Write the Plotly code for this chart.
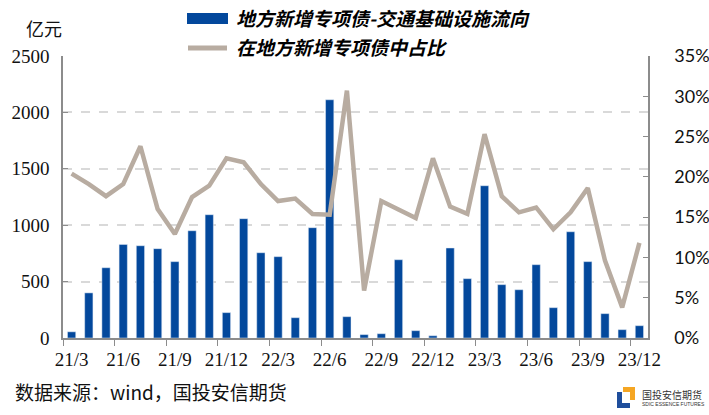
import plotly.graph_objects as go

months = ["21/3","21/4","21/5","21/6","21/7","21/8","21/9","21/10","21/11","21/12",
          "22/1","22/2","22/3","22/4","22/5","22/6","22/7","22/8","22/9","22/10","22/11","22/12",
          "23/1","23/2","23/3","23/4","23/5","23/6","23/7","23/8","23/9","23/10","23/11","23/12"]
bar_values = [55, 400, 623, 830, 818, 792, 677, 951, 1093, 225,
              1058, 756, 721, 180, 978, 2112, 189, 30, 38, 694, 65, 20,
              798, 526, 1350, 473, 428, 650, 269, 942, 677, 216, 74, 109]
share_pct = [20.4, 19.1, 17.6, 19.1, 23.8, 16.0, 12.9, 17.5, 18.9, 22.3,
             21.8, 19.1, 17.0, 17.3, 15.4, 15.3, 30.7, 5.9, 17.0, 15.9, 14.9, 22.3,
             16.3, 15.4, 25.3, 17.6, 15.6, 16.2, 13.5, 15.6, 18.6, 9.6, 3.8, 11.8]
share = [v / 100 for v in share_pct]

bar_name = "地方新增专项债-交通基础设施流向"
line_name = "在地方新增专项债中占比"
BLUE = "#03489C"
TAUPE = "#B8ACA1"
AXIS = "#8C8C8C"

fig = go.Figure()
fig.add_trace(go.Bar(x=months, y=bar_values, name=bar_name, marker_color=BLUE,
                     showlegend=False))
fig.add_trace(go.Scatter(x=months, y=share, name=line_name, yaxis="y2", mode="lines",
                         line=dict(color=TAUPE, width=4.5), showlegend=False))

W, H = 709, 415
L, R, T, B = 63, 61, 56, 77
pw, ph = W - L - R, H - T - B

def px(x):
    return (x - L) / pw

def py(y):
    return (H - B - y) / ph

fig.update_layout(
    width=W, height=H,
    margin=dict(l=L, r=R, t=T, b=B, autoexpand=False),
    paper_bgcolor="white", plot_bgcolor="white",
    bargap=0.52,
    xaxis=dict(type="category", tickmode="linear", tick0=0, dtick=3, tickangle=0,
               tickson="boundaries", ticks="outside", ticklen=6, tickcolor=AXIS,
               showline=True, linecolor=AXIS, linewidth=1.5, showgrid=False,
               ticklabelstandoff=3, automargin=False,
               tickfont=dict(family="Liberation Serif", size=19, color="#111"),
               range=[-0.5, len(months) - 0.5]),
    yaxis=dict(range=[0, 2500], dtick=500, showline=True, linecolor=AXIS, linewidth=1.5,
               ticks="inside", ticklen=5, tickcolor=AXIS,
               showgrid=True, gridcolor="#D9D9D9", griddash="dash", gridwidth=1.5,
               zeroline=False, ticklabelstandoff=8, automargin=False,
               tickfont=dict(family="Liberation Serif", size=19, color="#111")),
    yaxis2=dict(range=[0, 0.35], dtick=0.05, tickformat=".0%", overlaying="y", side="right",
                showline=True, linecolor=AXIS, linewidth=1.5, ticks="inside", ticklen=5,
                tickcolor=AXIS, showgrid=False, zeroline=False, ticklabelstandoff=21,
                automargin=False,
                tickfont=dict(family="Lato", size=18, color="#111")),
)

# custom legend
fig.add_shape(type="rect", xref="paper", yref="paper", x0=px(187), x1=px(228),
              y0=py(24), y1=py(13), fillcolor=BLUE, line=dict(width=0))
fig.add_shape(type="line", xref="paper", yref="paper", x0=px(188), x1=px(227),
              y0=py(48), y1=py(48), line=dict(color=TAUPE, width=5))
fig.add_annotation(xref="paper", yref="paper", x=px(234), y=py(18), xanchor="left",
                   yanchor="middle", showarrow=False,
                   text="<b><i>" + bar_name + "</i></b>",
                   font=dict(family="Noto Sans CJK SC", size=19, color="#000"))
fig.add_annotation(xref="paper", yref="paper", x=px(234), y=py(46), xanchor="left",
                   yanchor="middle", showarrow=False,
                   text="<b><i>" + line_name + "</i></b>",
                   font=dict(family="Noto Sans CJK SC", size=19, color="#000"))

# unit label
fig.add_annotation(xref="paper", yref="paper", x=px(44), y=py(28), xanchor="center",
                   yanchor="middle", showarrow=False, text="亿元",
                   font=dict(family="Noto Sans CJK SC", size=18, color="#111"))

# source
fig.add_annotation(xref="paper", yref="paper", x=px(13), y=py(391), xanchor="left",
                   yanchor="middle", showarrow=False, text="数据来源：wind，国投安信期货",
                   font=dict(family="Noto Sans CJK SC", size=19, color="#111"))

# logo
def rect(x0, x1, y0, y1, color):
    fig.add_shape(type="rect", xref="paper", yref="paper", x0=px(x0), x1=px(x1),
                  y0=py(y1), y1=py(y0), fillcolor=color, line=dict(width=0))

rect(623, 635, 387, 400, "#F5A623")
rect(623, 630, 392, 400, "white")
rect(617, 630, 392, 408, "#1F4E9C")
rect(622, 630, 392, 403, "white")
fig.add_annotation(xref="paper", yref="paper", x=px(640), y=py(394), xanchor="left",
                   yanchor="middle", showarrow=False, text="国投安信期货",
                   font=dict(family="Noto Sans CJK SC", size=10, color="#333"))
fig.add_annotation(xref="paper", yref="paper", x=px(640), y=py(404), xanchor="left",
                   yanchor="middle", showarrow=False, text="SDIC ESSENCE FUTURES",
                   font=dict(family="Liberation Sans", size=5, color="#333"))

fig.write_html("out.html")
